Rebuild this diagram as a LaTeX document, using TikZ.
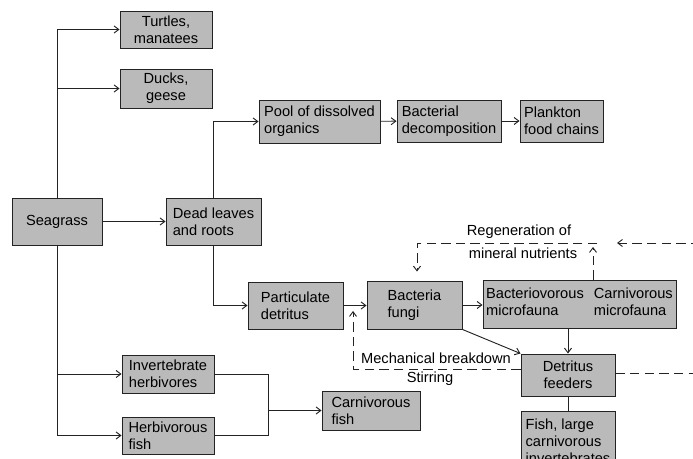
\documentclass[tikz,border=0pt]{standalone}
\usepackage{fontspec}
\setmainfont{Liberation Sans}
\usetikzlibrary{arrows.meta}
\definecolor{boxgray}{RGB}{186,186,186}
\definecolor{linegray}{RGB}{35,35,35}

\begin{document}
\begin{tikzpicture}[
  x=0.03cm, y=-0.03cm,
  box/.style={draw=linegray, line width=0.8pt, fill=boxgray, inner sep=1.5pt,
              font=\fontsize{12.5}{14.5}\selectfont, align=left},
  boxc/.style={box, align=center},
  arrow/.style={-{Straight Barb[length=4pt,width=6pt]}, line width=0.8pt, draw=linegray},
  plain/.style={line width=0.8pt, draw=linegray},
  dashline/.style={arrow, dash pattern=on 8pt off 4.5pt},
  labelstyle/.style={font=\fontsize{12.5}{14.5}\selectfont, inner sep=1pt}
]
\useasboundingbox (0,0) rectangle (693,459);
\clip (0,0) rectangle (693,459);

\node[boxc, minimum width=2.76cm, minimum height=1.11cm] (turtle) at (166,29.5) {Turtles,\\manatees};
\node[boxc, minimum width=2.76cm, minimum height=1.17cm] (duck) at (166,88.5) {Ducks,\\geese};
\node[box, minimum width=3.63cm, minimum height=1.29cm] (pool) at (319.5,121.5) {Pool of dissolved\\organics};
\node[box, minimum width=3.12cm, minimum height=1.26cm] (bactdec) at (449,121) {Bacterial\\decomposition};
\node[box, minimum width=2.49cm, minimum height=1.26cm] (plankton) at (561.5,121) {Plankton\\food chains};

\node[boxc, minimum width=2.7cm, minimum height=1.41cm] (sea) at (57,221.5) {Seagrass};
\node[box, minimum width=2.85cm, minimum height=1.41cm] (dead) at (213.5,221.5) {Dead leaves\\and roots};

\node[box, minimum width=2.85cm, minimum height=1.41cm] (partic) at (295.5,305.5) {Particulate\\detritus};
\node[box, minimum width=2.85cm, minimum height=1.44cm] (bact) at (414.5,305) {Bacteria\\fungi};
\node[box, minimum width=5.79cm, minimum height=1.44cm] (micro) at (579.5,304)
  {\begin{tabular}{@{}l@{\hspace{0.3cm}}l@{}}Bacteriovorous & Carnivorous\\microfauna & microfauna\end{tabular}};
\node[boxc, minimum width=2.82cm, minimum height=1.26cm] (detr) at (568,375) {Detritus\\feeders};
\node[box, minimum width=2.82cm, minimum height=1.8cm] (fishlg) at (568,441) {Fish, large\\carnivorous\\invertebrates};

\node[box, minimum width=2.76cm, minimum height=1.14cm] (invert) at (168,374) {Invertebrate\\herbivores};
\node[box, minimum width=2.76cm, minimum height=1.11cm] (herbfish) at (168,435.5) {Herbivorous\\fish};
\node[box, minimum width=2.94cm, minimum height=1.17cm] (carnfish) at (371,410.5) {Carnivorous\\fish};

\node[labelstyle] (regen1) at (519,232) {Regeneration of};
\node[labelstyle] (regen2) at (523,253) {mineral nutrients};
\node[labelstyle] (mech1) at (436,358) {Mechanical breakdown};
\node[labelstyle] (mech2) at (430,379) {Stirring};

\coordinate (join) at (268,410.5);
\coordinate (regL) at (417,243);
\coordinate (regR) at (597,243);
\coordinate (regup) at (593,247);
\coordinate (regin) at (617,243);
\coordinate (offtop) at (710,243);
\coordinate (offbot) at (710,373);
\coordinate (mechtip) at (353,311);

\draw[arrow] (sea.north) |- (turtle.west);
\draw[arrow] (sea.north) |- (duck.west);
\draw[arrow] (sea.south) |- (invert.west);
\draw[arrow] (sea.south) |- (herbfish.west);
\draw[arrow] (sea) -- (dead);
\draw[arrow] (dead.north) |- (pool.west);
\draw[arrow] (dead.south) |- (partic.west);
\draw[arrow] (pool) -- (bactdec);
\draw[arrow] (bactdec) -- (plankton);
\draw[arrow] (partic.east) -- (partic.east -| bact.west);
\draw[arrow] (bact.east) -- (bact.east -| micro.west);
\draw[arrow] (bact.south east) -- (detr.north west);
\draw[arrow] (micro.south -| detr.north) -- (detr.north);
\draw[plain] (detr) -- (fishlg);

\draw[plain] (invert.east) -| (join);
\draw[plain] (herbfish.east) -| (join);
\draw[arrow] (join) -- (carnfish.west);

\draw[dashline, shorten >=0.27cm] (regR) -- (regL) -- (regL |- bact.north);
\draw[dashline] (regup |- micro.north) -- (regup);
\draw[dashline] ([yshift=0.06cm]detr.east) -- (offbot) -- (offtop) -- (regin);
\draw[dashline] ([yshift=0.18cm]detr.west) -| (mechtip);

\end{tikzpicture}
\end{document}
